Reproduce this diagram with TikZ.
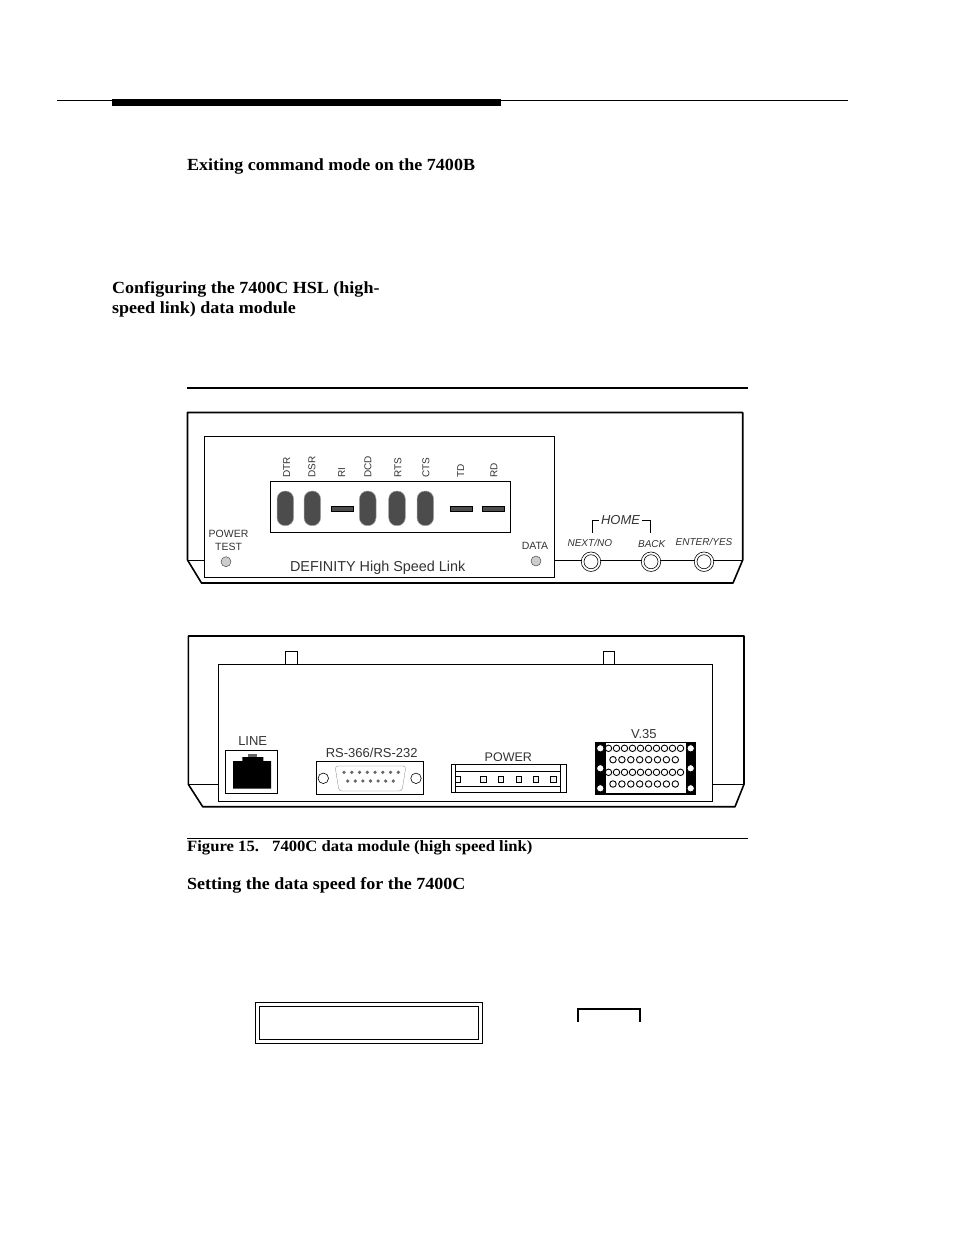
\documentclass[tikz,border=0pt]{standalone}
\usepackage{fontspec}
\setmainfont[FakeStretch=1.06]{Liberation Serif}
\newfontfamily\panelfont{Liberation Sans}
\usetikzlibrary{arrows}
\usetikzlibrary{positioning}
\newcommand{\headfont}{\fontsize{17}{20}\selectfont\bfseries}
\newcommand{\capfont}{\fontsize{15.7}{18}\selectfont\bfseries}
\newcommand{\tagsize}[1]{\panelfont\fontsize{#1}{#1}\selectfont}
\definecolor{inkgray}{gray}{.2}
\tikzset{
	heading/.style={inner sep=0pt,anchor=base west,font=\headfont},
	tag/.style={inner sep=0pt,text=inkgray,font=\tagsize{10.5}},
	bigtag/.style={inner sep=0pt,text=inkgray,font=\tagsize{13}},
	ledtag/.style={inner sep=0pt,rotate=90,anchor=west,text=inkgray,font=\tagsize{10}},
	keytag/.style={inner sep=0pt,text=inkgray,font=\tagsize{10}\itshape},
	casing/.style={line width=1.6pt,line join=round},
	panel/.style={draw,fill=white,line width=.8pt},
	pill/.style={fill=black!70,draw=black!35,line width=.5pt,rounded corners=8pt},
	bar/.style={fill=black!70,draw=black,line width=.4pt},
	lamp/.style={circle,draw=black!70,fill=black!20,line width=.5pt,minimum size=10pt,inner sep=0pt},
	pin/.style={circle,draw=black,fill=white,line width=.9pt,minimum size=6.5pt,inner sep=0pt},
	pindot/.style={circle,fill=black!60,minimum size=3.6pt,inner sep=0pt}
}

\begin{document}
\begin{tikzpicture}
			[x=1pt,y=-1pt]
			\useasboundingbox (0,0) rectangle (954,1235);
			\fill[white] (0,0) rectangle (954,1235);
			
			% page rules
			\draw[line width=.8pt] (57,100) -- (848,100);
			\fill (112,99) rectangle (501,106);
			\draw[line width=1.4pt] (187,388) -- (748,388);
			\draw[line width=.7pt] (187,838) -- (748,838);
			
			% headings
			\node[heading] (exiting) at (187,170) {Exiting command mode on the 7400B};
			\node[heading] (config1) at (112,293) {Configuring the 7400C HSL (high-};
			\node[heading] (config2) at (112,313) {speed link) data module};
			\node[heading,font=\capfont] (figno) at (187,851) {Figure 15.};
			\node[heading,font=\capfont] (figtext) at (272,851) {7400C data module (high speed link)};
			\node[heading] (setting) at (187,889) {Setting the data speed for the 7400C};
			
			% front view
			\draw[casing] (187.5,560) -- (187.5,412.5) -- (742.7,412.5) -- (742.7,560) -- (733,583) -- (201.5,583) -- cycle;
			\draw[line width=.7pt] (187.5,560) -- (205,560);
			\draw[line width=.7pt] (554,560) -- (742.7,560);
			\draw[panel] (204.5,436.7) rectangle (554,577);
			\draw[line width=.9pt] (270.7,481.7) rectangle (510,532);
			
			\foreach \x in {285.3,312.3,367.7,397,425.3}
				\draw[pill] (\x-8.3,491) rectangle (\x+8.3,525.7);
			\foreach \x in {342,461,493.3}
				\draw[bar] (\x-11,506) rectangle (\x+11,511.5);
			
			\foreach \x/\name in {286.7/DTR,312/DSR,341.7/RI,368/DCD,398/RTS,426/CTS,460.7/TD,494/RD}
				\node[ledtag] (led\name) at (\x,477.7) {\name};
			
			\node[tag] (power) at (228.5,534) {POWER};
			\node[tag] (test) at (228.5,547) {TEST};
			\node[lamp] (lamp1) at (226,561.7) {};
			\node[tag] (data) at (535,546) {DATA};
			\node[lamp] (lamp2) at (536,561) {};
			\node[inner sep=0pt,text=inkgray,font=\tagsize{14.4}] (brand) at (377.7,567.7) {DEFINITY High Speed Link};
			
			% keys
			\foreach \x/\name in {591/k1,651/k2,704/k3}
			{
				\node[circle,draw,fill=white,line width=.6pt,minimum size=19.5pt,inner sep=0pt] (\name) at (\x,561.7) {};
				\node[circle,draw,line width=.6pt,minimum size=14pt,inner sep=0pt] at (\x,561.7) {};
			}
			\node[keytag] (next) at (589.8,542.7) {NEXT/NO};
			\node[keytag] (back) at (651.7,543.7) {BACK};
			\node[keytag] (enter) at (704,541.7) {ENTER/YES};
			\node[inner sep=2pt,text=inkgray,font=\tagsize{13}\itshape] (home) at (620.5,520.3) {HOME};
			\coordinate (h1) at (592.7,532.7);
			\coordinate (h2) at (592.7,520.3);
			\coordinate (h3) at (650.7,532.7);
			\coordinate (h4) at (650.7,520.3);
			\draw[line width=.7pt] (h1) -- (h2) -- (home.west);
			\draw[line width=.7pt] (h3) -- (h4) -- (home.east);
			
			% rear view
			\draw[casing] (188.3,784.3) -- (188.3,636) -- (744,636) -- (744,784.3) -- (735,806.7) -- (202.7,806.7) -- cycle;
			\draw[line width=.7pt] (188.3,784.3) -- (218.7,784.3);
			\draw[line width=.7pt] (712.3,784.3) -- (744,784.3);
			\draw[panel] (218.7,664) rectangle (712.3,801.3);
			\foreach \x in {285.3,603}
				\draw[fill=white,line width=.7pt] (\x,651.7) rectangle (\x+11.7,664.7);
			
			% line jack
			\node[bigtag] (line) at (252.7,740.7) {LINE};
			\draw[line width=.7pt] (225.3,750.7) rectangle (277.7,793.3);
			\fill (233,761) -- (242.3,761) -- (242.3,757) -- (263.3,757) -- (263.3,761) -- (271,761) -- (271,788.7) -- (233,788.7) -- cycle;
			\fill[black!60] (247.7,754.3) rectangle (257.3,757);
			
			% sub-d connector
			\node[bigtag] (rs) at (371.7,753.3) {RS-366/RS-232};
			\draw[line width=.8pt] (316.7,761.3) rectangle (423.7,794.3);
			\node[circle,draw,line width=.6pt,minimum size=10.5pt,inner sep=0pt] (hole1) at (323.3,778.3) {};
			\node[circle,draw,line width=.6pt,minimum size=10.5pt,inner sep=0pt] (hole2) at (416,778.3) {};
			\draw[black!50,line width=.3pt,rounded corners=3pt] (335,766) -- (406,766) -- (402,791) -- (339,791) -- cycle;
			\foreach \i in {0,...,7}
				\node[pindot] at (344+\i*7.76,772.3) {};
			\foreach \i in {0,...,6}
				\node[pindot] at (347.7+\i*7.6,781) {};
			
			% power connector
			\node[bigtag,font=\tagsize{12.5}] (pwr) at (508.3,756.7) {POWER};
			\draw[line width=.8pt] (451,764.3) rectangle (566,792.7);
			\draw[line width=.8pt] (455.7,764.3) -- (455.7,792.7);
			\draw[line width=.8pt] (560.7,764.3) -- (560.7,792.7);
			\draw[line width=.5pt] (455.7,771.7) -- (560.7,771.7);
			\draw[line width=.5pt] (455.7,786.7) -- (560.7,786.7);
			\draw[line width=.6pt] (455.7,776.5) -- (460.5,776.5) -- (460.5,782) -- (455.7,782);
			\foreach \x in {483.3,500.7,518.7,536,553.3}
				\draw[fill=black!5,line width=.6pt] (\x-2.7,776.5) rectangle (\x+2.7,782);
			
			% v.35 connector
			\node[bigtag] (vtag) at (643.8,734) {V.35};
			\draw[line width=1.4pt] (595.7,742.7) rectangle (695.7,794);
			\fill (595.7,742.7) rectangle (605.7,794);
			\fill (685.7,742.7) rectangle (695.7,794);
			\foreach \y in {748.3,768.3,788.3}
			{
				\node[pin,minimum size=7.5pt] at (600.3,\y) {};
				\node[pin,minimum size=7.5pt] at (690.7,\y) {};
			}
			\foreach \y in {748.3,772.3}
				\foreach \i in {0,...,9}
					\node[pin] at (608.5+\i*8,\y) {};
			\foreach \y in {759.7,784}
				\foreach \i in {0,...,7}
					\node[pin] at (613+\i*8.9,\y) {};
			
			% display
			\draw[line width=.9pt] (255.3,1002.7) rectangle (482.3,1043.3);
			\draw[line width=.9pt] (259.3,1006) rectangle (478.7,1039.3);
			\coordinate (b1) at (578,1021.7);
			\coordinate (b2) at (578,1009);
			\coordinate (b3) at (640,1009);
			\coordinate (b4) at (640,1021.7);
			\draw[line width=1.5pt] (b1) -- (b2) -- (b3) -- (b4);
			\end{tikzpicture}
\end{document}
